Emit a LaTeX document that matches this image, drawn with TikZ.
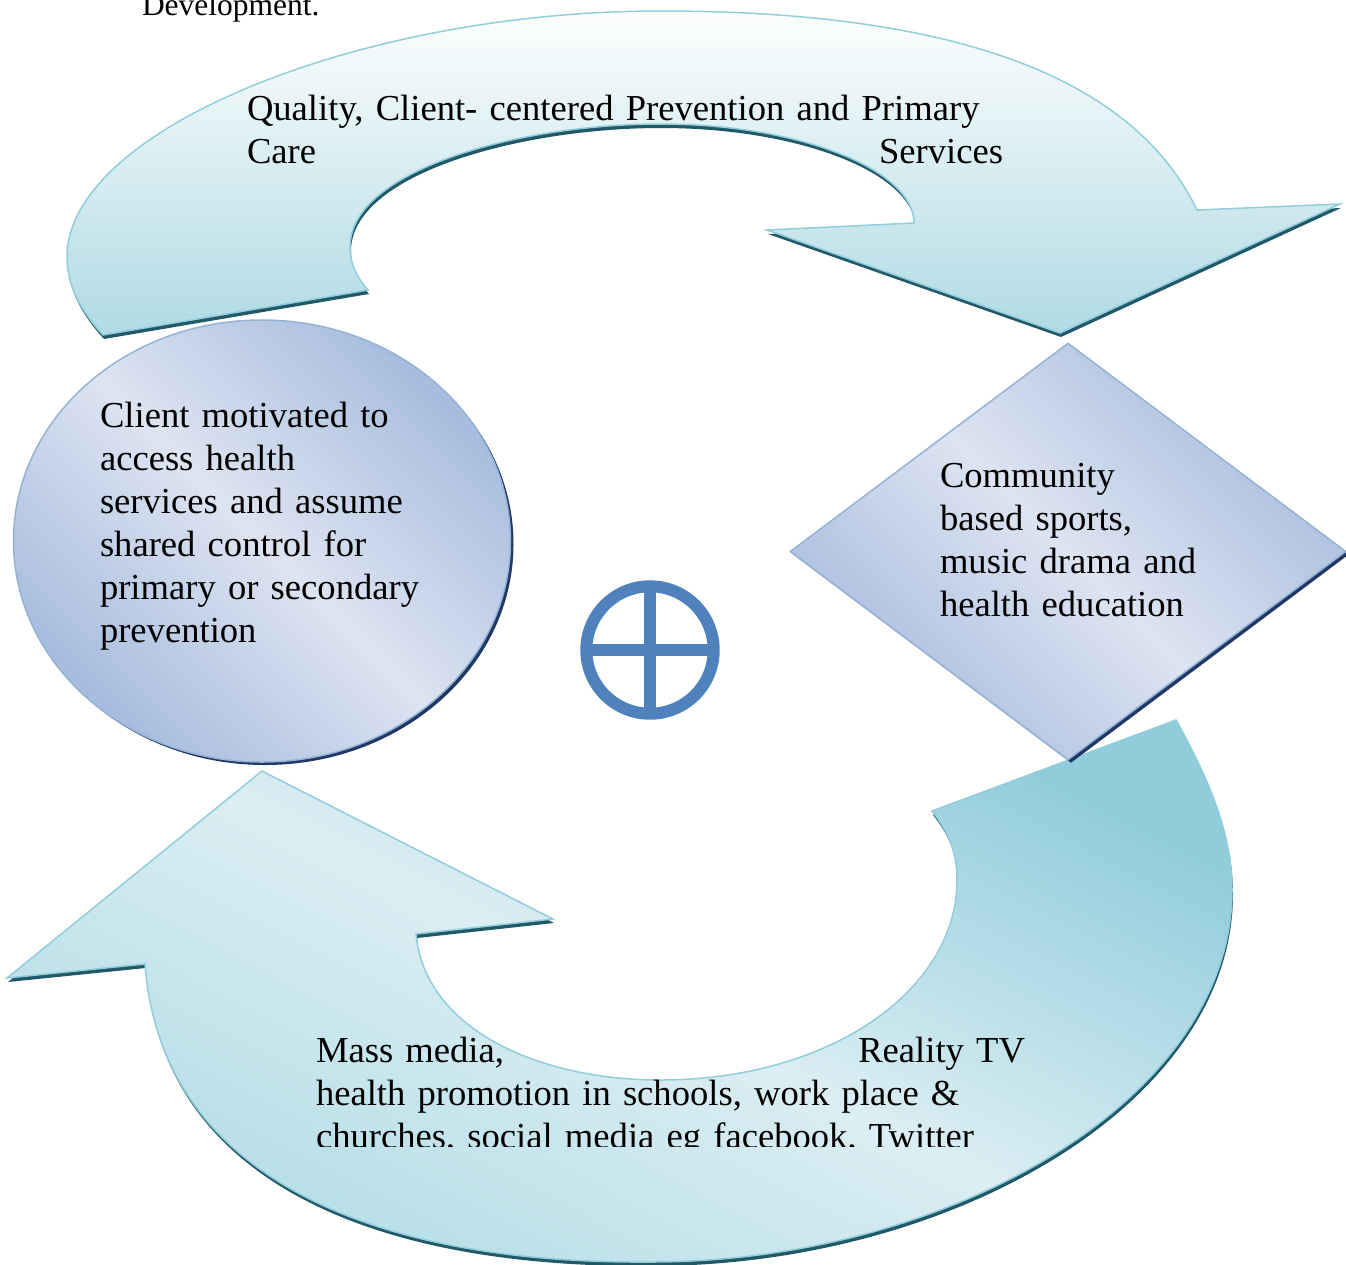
\documentclass[tikz,border=0pt]{standalone}
\usepackage{fontspec}
\setmainfont{Liberation Serif}
\usetikzlibrary{shapes.geometric,shadows}
\definecolor{arrowline}{RGB}{146,205,220}
\definecolor{tealshadow}{RGB}{33,89,104}
\definecolor{topA}{RGB}{253,254,254}
\definecolor{topB}{RGB}{176,218,228}
\definecolor{botA}{RGB}{145,204,219}
\definecolor{botM}{RGB}{219,238,243}
\definecolor{botB}{RGB}{178,220,229}
\definecolor{blueline}{RGB}{149,179,215}
\definecolor{navyshadow}{RGB}{31,56,100}
\definecolor{ovalDark}{RGB}{168,189,222}
\definecolor{ovalLight}{RGB}{221,228,241}
\definecolor{symblue}{RGB}{79,129,189}
\pgfdeclareverticalshading{ovalsh}{100bp}{color(0bp)=(ovalDark); color(26bp)=(ovalDark); color(50bp)=(ovalLight); color(74bp)=(ovalDark); color(100bp)=(ovalDark)}
\newcommand\TopArrowPath{(103,335) .. controls (80,310) and (67,285) .. (67,257)
  .. controls (67,130) and (360,11) .. (660,11)
  .. controls (950,11) and (1132,75) .. (1197,210)
  -- (1340,204) -- (1060,333) -- (767,230) -- (914,223)
  .. controls (914,170) and (800,124) .. (660,124)
  .. controls (520,124) and (350,170) .. (350,247)
  .. controls (350,262) and (355,275) .. (368,290) -- cycle}
\newcommand\BotArrowPath{(262,771) -- (553,919) -- (416,934)
  .. controls (425,1030) and (540,1080) .. (660,1080)
  .. controls (830,1080) and (957,990) .. (957,880)
  .. controls (957,850) and (947,830) .. (932,811)
  -- (1176,720)
  .. controls (1215,790) and (1232,840) .. (1232,890)
  .. controls (1232,1100) and (950,1262) .. (650,1262)
  .. controls (360,1264) and (160,1170) .. (145,964)
  -- (7,978) -- cycle}
\begin{document}
\begin{tikzpicture}[x=1pt,y=-1pt,
  txt/.style={font=\fontsize{36.6pt}{43pt}\selectfont, inner sep=0pt, outer sep=0pt, text=black, anchor=base west},
  arrowshape/.style={draw=arrowline, line width=1.5pt},
  ovalshade/.style={draw=blueline, line width=1.5pt, shading=ovalsh, shading angle=-45,
      drop shadow={shadow xshift=3pt, shadow yshift=-3pt, fill=navyshadow, opacity=1}}]
\useasboundingbox (0,0) rectangle (1346,1264);
\clip (0,0) rectangle (1346,1264);

% caption fragment at the top
\node[txt, font=\fontsize{31.5pt}{37pt}\selectfont] (dev) at (142,15) {Development.};

% top curved arrow
\begin{scope}[shift={(1,4)}]
  \fill[tealshadow] \TopArrowPath;
\end{scope}
\path[arrowshape, top color=topA, bottom color=topB] \TopArrowPath;

% bottom curved arrow
\begin{scope}[shift={(1,4)}]
  \fill[tealshadow] \BotArrowPath;
\end{scope}
\path[arrowshape, top color=botA, bottom color=botB, middle color=botM, shading angle=-27] \BotArrowPath;

% client oval
\node[ellipse, minimum width=497pt, minimum height=442pt, inner sep=0pt, ovalshade]
      (client) at (262,541) {};

% community diamond
\node[diamond, minimum width=556pt, minimum height=417pt, inner sep=0pt, ovalshade]
      (community) at (1068,551.5) {};

% centre symbol
\node[circle, draw=symblue, line width=12pt, minimum size=127.4pt, inner sep=0pt, outer sep=0pt] (sym) at (650,650) {};
\draw[symblue, line width=11.7pt] (sym.north) -- (sym.south);
\draw[symblue, line width=11.7pt] (sym.west) -- (sym.east);

% texts
\node[txt, text width=756pt] (toptext) at (247,120)
  {Quality, Client- centered Prevention and Primary\\Care\hskip 0pt plus 1filll Services};

\node[txt, text width=400pt, align=left] (clienttext) at (100,427)
  {Client motivated to\\access health\\services and assume\\shared control for\\primary or secondary\\prevention};

\node[txt, text width=330pt, align=left] (communitytext) at (940,487)
  {Community\\based sports,\\music drama and\\health education};

\begin{scope}
  \clip (0,0) rectangle (1346,1146);
  \node[txt, text width=709pt] (bottext) at (316,1062)
    {Mass media,\hskip 0pt plus 1filll Reality TV\\health promotion in schools, work place \&\\churches, social media eg facebook, Twitter};
\end{scope}
\end{tikzpicture}
\end{document}
